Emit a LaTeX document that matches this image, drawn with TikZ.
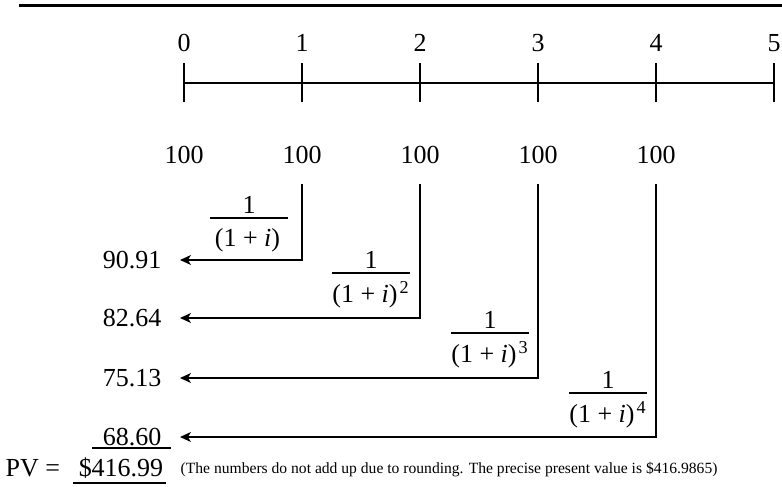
\documentclass[tikz,border=0pt]{standalone}
\usepackage{fontspec}
\setmainfont{Liberation Serif}
\usetikzlibrary{arrows.meta}

\begin{document}
\begin{tikzpicture}[x=0.5pt,y=-0.5pt,>={Stealth[length=5.5pt,width=5pt,inset=1.6pt]},line width=0.7pt,
    font=\fontsize{13}{15}\selectfont,
    val/.style={anchor=east,inner sep=2pt},
    link/.style={->,shorten <=6.5pt,shorten >=7pt},
    fracbar/.style={line width=0.6pt}]
  \useasboundingbox (0,0) rectangle (782,487);

  % top rule
  \draw[line width=1.5pt] (19,5) -- (782,5);

  % time line
  \draw[line width=0.6pt] (184,83) -- (773,83);
  \foreach \t in {0,...,5} {
    \draw[line width=0.6pt] (184+118*\t,63) -- (184+118*\t,102);
    \node (t\t) at (184+118*\t,43) {\t};
  }

  % payments
  \foreach \k in {0,...,4}
    \node (p\k) at (184+118*\k,155) {100};

  % present values
  \node[val] (v1) at (166,260) {90.91};
  \node[val] (v2) at (166,318) {82.64};
  \node[val] (v3) at (166,378) {75.13};
  \node[val] (v4) at (166,437) {68.60};
  \draw[line width=0.6pt] (92,448) -- (171,448);

  % discounting
  \foreach \k in {1,...,4}
    \draw[link] (p\k.south) |- (v\k.east);

  % discount factors
  \foreach \k/\x/\y/\e in {1/249/218/{},2/371/273/2,3/490/333/3,4/608/393/4} {
    \draw[fracbar] (\x-39,\y) -- (\x+39,\y);
    \node (n\k) at (\x,\y-13) {1};
    \node (d\k) at (\x,\y+22) {(1 + \textit{i})\kern1pt\textsuperscript{\e}};
  }

  % total
  \node[anchor=west,inner sep=0pt] (pv) at (5,468) {PV =};
  \node (sum) at (121,468) {\$416.99};
  \draw[line width=0.6pt] (73,483) -- (166,483);
  \node[anchor=west,inner sep=0pt,font=\fontsize{7.8}{9}\selectfont] (note) at (180,470)
    {(The numbers do not add up due to rounding. The precise present value is \$416.9865)};
\end{tikzpicture}
\end{document}
